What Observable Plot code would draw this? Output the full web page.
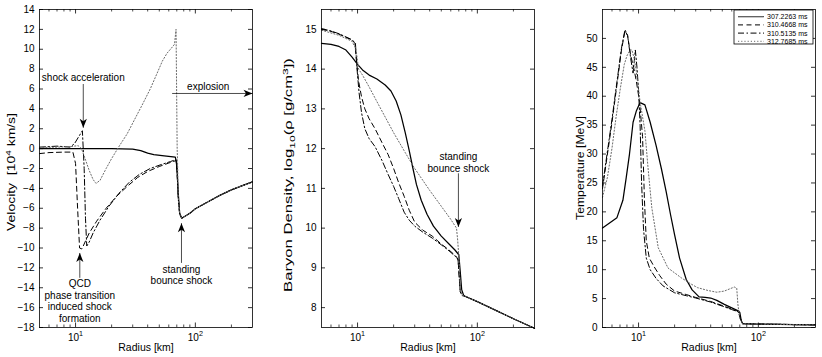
<!DOCTYPE html>
<html><head><meta charset="utf-8">
<script src="https://cdn.jsdelivr.net/npm/d3@7"></script>
<script src="https://cdn.jsdelivr.net/npm/@observablehq/plot@0.6"></script>
<style>
body{margin:0;background:#fff;}
#chart{position:relative;width:822px;height:357px;font-family:"Liberation Sans",Arial,sans-serif;}
#chart svg{position:absolute;top:0;}
</style></head><body><div id="chart"></div>
<script>
// ---------- data ----------
const seriesNames = ["307.2263 ms", "310.4668 ms", "310.5135 ms", "312.7685 ms"];
const radiusDomain = [5, 300];
const radiusMajorTicks = [10, 100];
const radiusMinorTicks = [6, 7, 8, 9, 20, 30, 40, 50, 60, 70, 80, 90, 200];

// Panel 1: velocity [10^4 km/s]
const velocityTicks = [-18, -16, -14, -12, -10, -8, -6, -4, -2, 0, 2, 4, 6, 8, 10, 12, 14];
const velocityTail = [[77, -7.0], [90, -6.5], [100, -6.05], [130, -5.3], [160, -4.7], [200, -4.15], [250, -3.7], [300, -3.35]];
const velocity307 = [[5, 0], [10, 0], [20, 0], [30, -0.05], [35, -0.2], [40, -0.45], [45, -0.6], [55, -0.72], [68, -0.85], [70, -1.5], [72, -4.5], [74, -6.5]];
const velocity310a = [[5, -0.5], [6, -0.4], [8, -0.35], [9.5, -0.35], [10.0, -1.5], [10.4, -6], [10.8, -10.0], [11.3, -10.1], [12, -9.4], [13, -8.5], [15, -7.3], [18, -6.0], [22, -4.8], [27, -3.8], [33, -2.9], [40, -2.3], [50, -1.8], [60, -1.45], [69, -1.2], [70.5, -2.5], [72, -5], [74, -6.6]];
const velocity310b = [[5, 0.15], [6, 0.2], [7, 0.25], [8, 0.2], [9, 0.15], [9.8, 0.5], [10.5, 1.1], [11.4, 1.8], [11.8, -2], [12.1, -7], [12.4, -9.8], [13, -9.4], [14, -8.5], [16, -7.2], [19, -5.8], [23, -4.5], [28, -3.4], [34, -2.6], [42, -2.0], [52, -1.6], [62, -1.3], [69, -1.1], [70.5, -2.5], [72, -5], [74, -6.6]];
const velocity312 = [[5, 0.1], [7, 0.15], [9, 0.2], [10.5, 0.3], [11.2, 0], [12, -1], [13, -2.2], [14, -3.1], [14.8, -3.5], [16, -3.2], [18, -2.0], [20, -1.0], [23, 0.2], [27, 1.5], [31, 2.9], [36, 4.4], [42, 6.0], [48, 7.6], [53, 8.8], [58, 9.6], [63, 10.1], [67, 10.5], [69, 12.0], [69.5, 8], [70.5, 0], [71, -1.2], [72, -5], [74, -6.6]];

// Panel 2: log10 baryon density
const densityTicks = [8, 9, 10, 11, 12, 13, 14, 15];
const densityTail = [[77, 8.3], [100, 8.15], [150, 7.9], [200, 7.72], [300, 7.48]];
const density307 = [[5, 14.65], [6, 14.62], [7, 14.57], [8, 14.48], [9, 14.3], [10, 14.12], [11, 13.98], [12.5, 13.85], [14.5, 13.75], [17, 13.6], [19, 13.45], [21, 13.2], [23, 12.85], [25, 12.4], [27, 11.95], [29, 11.5], [31, 11.1], [34, 10.7], [38, 10.35], [43, 10.05], [50, 9.8], [58, 9.6], [65, 9.45], [70, 9.33], [72, 8.9], [74, 8.45]];
const density310a = [[5, 15.0], [6, 14.95], [7, 14.88], [8, 14.8], [9, 14.73], [9.5, 14.65], [9.8, 14.2], [10.2, 13.7], [10.8, 13.3], [11.5, 13.0], [12.5, 12.75], [14, 12.5], [16, 12.15], [18, 11.85], [20, 11.5], [22, 11.15], [24.5, 10.8], [27, 10.45], [30, 10.15], [35, 9.95], [42, 9.8], [50, 9.6], [58, 9.45], [66, 9.3], [69, 9.22], [70.5, 8.8], [72, 8.4], [75, 8.3]];
const density310b = [[5, 15.02], [6, 14.96], [7, 14.89], [8, 14.81], [9, 14.74], [9.6, 14.65], [9.9, 14.0], [10.3, 13.4], [10.8, 12.9], [11.5, 12.5], [12.5, 12.25], [14, 12.05], [16, 11.7], [18, 11.35], [20, 11.05], [22, 10.75], [24.5, 10.4], [27, 10.2], [30, 10.05], [35, 9.9], [42, 9.75], [50, 9.58], [58, 9.43], [66, 9.28], [69, 9.2], [70.5, 8.8], [72, 8.4], [75, 8.3]];
const density312 = [[5, 14.98], [7, 14.85], [9, 14.7], [9.7, 14.5], [10.2, 14.0], [11, 13.85], [12.5, 13.55], [15, 13.1], [20, 12.4], [25, 11.9], [30, 11.5], [40, 10.95], [50, 10.55], [60, 10.22], [67, 10.0], [68.5, 9.7], [70, 9.3], [72, 8.5], [75, 8.3]];

// Panel 3: temperature [MeV]
const temperatureTicks = [0, 5, 10, 15, 20, 25, 30, 35, 40, 45, 50];
const temperatureTail = [[74, 0.65], [100, 0.6], [150, 0.55], [200, 0.5], [300, 0.45]];
const temperature307 = [[5, 17.2], [6.6, 19.0], [7.4, 22], [7.9, 26], [8.4, 30], [9, 35.5], [9.6, 37.5], [10.3, 38.9], [11.3, 38.5], [12.5, 35.5], [14, 31.5], [15.5, 27.5], [17, 23.5], [18.5, 19.5], [20, 16], [22, 12], [25, 8.3], [28, 6.5], [32, 5.3], [36, 5.2], [40, 5.1], [45, 4.7], [52, 4.0], [60, 3.4], [68, 2.9], [70, 2.6], [72, 1.2]];
const temperature310a = [[5, 24], [5.5, 30], [6, 35.5], [6.6, 42], [7.2, 48], [7.7, 51.3], [8.1, 50.5], [8.6, 47], [9.1, 45], [9.6, 42.5], [10.2, 39], [10.8, 33], [11.2, 22], [11.6, 15], [12.3, 12], [13.5, 10.5], [15, 9], [17, 7.5], [20, 6.3], [25, 5.7], [30, 5.2], [40, 4.5], [50, 3.8], [60, 3.2], [68, 2.8], [71, 1.5]];
const temperature310b = [[5, 24.5], [5.5, 30.5], [6, 36], [6.6, 42.5], [7.2, 48.3], [7.7, 51.5], [8.1, 50.5], [8.6, 46.5], [9.0, 44], [9.4, 48], [9.7, 45], [10.0, 41], [10.3, 35], [10.6, 25], [11.0, 17], [11.6, 12], [12.5, 10], [14, 8.5], [16, 7.2], [20, 6], [25, 5.5], [30, 5.1], [40, 4.4], [50, 3.7], [60, 3.1], [68, 2.7], [71, 1.5]];
const temperature312 = [[5, 22.5], [5.5, 26], [6, 31], [6.5, 36.5], [7.05, 41.4], [7.6, 45.5], [8.0, 47], [8.5, 48], [8.8, 48], [9.2, 46.5], [9.5, 44.8], [10.3, 39], [11.3, 34], [12, 27.6], [12.9, 20.7], [14.6, 13.8], [17.6, 10.3], [22.7, 8.6], [27, 7.6], [31, 6.9], [38, 6.4], [45, 6.1], [52, 6.3], [58, 6.7], [63, 7.0], [66, 6.8], [67.5, 4], [70, 1.5]];

// annotations (data coordinates)
const velocityNotes = [
  {r: 11.6, v: 7.15, text: "shock acceleration"},
  {r: 128, v: 6.3, text: "explosion"},
  {r: 10.85, v: -15.3, text: "QCD\nphase transition\ninduced shock\nformation"},
  {r: 76.6, v: -12.7, text: "standing\nbounce shock"}
];
const velocityArrows = [
  {r1: 11.6, v1: 6.5, r2: 11.6, v2: 2.1},
  {r1: 64, v1: 5.55, r2: 300, v2: 5.55},
  {r1: 10.85, v1: -13.0, r2: 10.85, v2: -10.5},
  {r1: 76.6, v1: -11.5, r2: 76.6, v2: -7.5}
];
const densityNotes = [{r: 69.5, v: 11.65, text: "standing\nbounce shock"}];
const densityArrows = [{r1: 69.5, v1: 11.38, r2: 69.5, v2: 10.03}];

// ---------- styles ----------
const lineColors = ["#000", "#000", "#000", "#6a6a6a"];
const lineWidths = [1.25, 1, 1, 1];
const lineDashes = [null, "5,3.5", "6,2.5,1.5,2.5", "1.2,2"];
const FONT = "'Liberation Sans', Arial, Helvetica, sans-serif";

function headMarker(color) {
  const m = d3.create("svg:marker")
    .attr("viewBox", "-10 -5 10 10").attr("markerWidth", 10).attr("markerHeight", 10)
    .attr("markerUnits", "userSpaceOnUse").attr("orient", "auto")
    .attr("fill", "#000").attr("stroke", "none");
  m.append("path").attr("d", "M0,0L-9,-3.6L-6.5,0L-9,3.6Z");
  return m.node();
}

function richify(root) {
  root.querySelectorAll("text").forEach(t => {
    const targets = t.querySelector("tspan") ? [...t.querySelectorAll("tspan")] : [t];
    targets.forEach(node => {
      const s = node.textContent;
      if (!/[\^_]\{/.test(s)) return;
      const fs = parseFloat(getComputedStyle(node).fontSize) || 10;
      while (node.firstChild) node.removeChild(node.firstChild);
      const re = /([\^_])\{([^}]*)\}/g;
      let last = 0, m, pending = 0;
      const add = (txt, dy, small) => {
        const ts = document.createElementNS("http://www.w3.org/2000/svg", "tspan");
        if (dy) ts.setAttribute("dy", dy);
        if (small) ts.setAttribute("font-size", (fs * 0.72).toFixed(2));
        ts.textContent = txt;
        node.appendChild(ts);
      };
      while ((m = re.exec(s))) {
        if (m.index > last) { add(s.slice(last, m.index), pending); pending = 0; }
        const shift = m[1] === "^" ? -0.42 * fs : 0.28 * fs;
        add(m[2], shift + pending, true);
        pending = -shift;
        last = re.lastIndex;
      }
      if (last < s.length) add(s.slice(last), pending);
    });
  });
}

function makePanel(cfg) {
  const H = 357, mt = 9, mb = 30;
  const fw = cfg.width - cfg.marginLeft - cfg.marginRight;
  const fh = H - mt - mb;
  const X = d => d[0], Y = d => d[1];
  const marks = [];
  cfg.series.forEach((pts, i) => {
    const o = {x: X, y: Y, stroke: lineColors[i], strokeWidth: lineWidths[i]};
    if (lineDashes[i]) o.strokeDasharray = lineDashes[i];
    marks.push(Plot.line(pts, o));
  });
  // inward ticks on all four sides
  marks.push(Plot.tickY(cfg.yTicks, {y: d => d, insetRight: fw - 4, stroke: "#000", strokeWidth: 0.8}));
  marks.push(Plot.tickY(cfg.yTicks, {y: d => d, insetLeft: fw - 4, stroke: "#000", strokeWidth: 0.8}));
  marks.push(Plot.tickX(radiusMinorTicks, {x: d => d, insetTop: fh - 2.5, stroke: "#000", strokeWidth: 0.7}));
  marks.push(Plot.tickX(radiusMinorTicks, {x: d => d, insetBottom: fh - 2.5, stroke: "#000", strokeWidth: 0.7}));
  marks.push(Plot.tickX(radiusMajorTicks, {x: d => d, insetTop: fh - 4.5, stroke: "#000", strokeWidth: 0.8}));
  marks.push(Plot.tickX(radiusMajorTicks, {x: d => d, insetBottom: fh - 4.5, stroke: "#000", strokeWidth: 0.8}));
  marks.push(Plot.frame({stroke: "#000", strokeWidth: 0.8}));
  marks.push(Plot.axisY({ticks: cfg.yTicks, tickSize: 0, tickPadding: 5, label: null, fontSize: 10}));
  marks.push(Plot.axisX({ticks: radiusMajorTicks, tickSize: 0, tickPadding: 6, label: null, fontSize: 10,
    tickFormat: d => `10^{${Math.round(Math.log10(d))}}`}));
  marks.push(Plot.text(["Radius [km]"], {frameAnchor: "bottom", dy: 23, text: d => d, fontSize: 10.5}));
  if (cfg.arrows) marks.push(Plot.link(cfg.arrows, {x1: "r1", y1: "v1", x2: "r2", y2: "v2", stroke: "#000", strokeWidth: 0.7, markerEnd: headMarker}));
  if (cfg.notes) marks.push(Plot.text(cfg.notes, {x: "r", y: "v", text: "text", fontSize: 10, lineHeight: 1.15, fill: "#000"}));
  const svg = Plot.plot({
    width: cfg.width, height: H, marginTop: mt, marginBottom: mb,
    marginLeft: cfg.marginLeft, marginRight: cfg.marginRight,
    style: {fontFamily: FONT, fontSize: "10px", background: "transparent", color: "#000", overflow: "visible"},
    x: {type: "log", domain: radiusDomain},
    y: {domain: cfg.yDomain},
    marks
  });
  svg.style.left = cfg.left + "px";
  document.getElementById("chart").appendChild(svg);
  // rotated y-axis title, stretched along its length like the (vertically stretched) original figure
  const cy = (mt + H - mb) / 2;
  const t = d3.select(svg).append("text")
    .attr("text-anchor", "middle").attr("dy", "0.35em")
    .attr("font-family", FONT).attr("font-size", 10.3).attr("fill", "#000")
    .text(cfg.yLabel);
  richify(svg);
  const natural = t.node().getComputedTextLength() || 1;
  const k = cfg.yLabelLength / natural;
  t.attr("transform", `translate(${cfg.yLabelX},${cfg.yLabelY ?? cy}) rotate(-90) scale(${k.toFixed(3)},1)`);
  return svg;
}

makePanel({left: 0, width: 274, marginLeft: 39, marginRight: 22, yDomain: [-18, 14], yTicks: velocityTicks,
  yLabel: "Velocity  [10^{4} km/s]", yLabelX: 11.5, yLabelY: 172, yLabelLength: 118,
  series: [velocity307.concat(velocityTail), velocity310a.concat(velocityTail), velocity310b.concat(velocityTail), velocity312.concat(velocityTail)],
  notes: velocityNotes, arrows: velocityArrows});

makePanel({left: 274, width: 274, marginLeft: 47, marginRight: 14, yDomain: [7.5, 15.5], yTicks: densityTicks,
  yLabel: "Baryon Density, log_{10}(ρ [g/cm^{3}])", yLabelX: 14.5, yLabelY: 175, yLabelLength: 234,
  series: [density307.concat(densityTail), density310a.concat(densityTail), density310b.concat(densityTail), density312.concat(densityTail)],
  notes: densityNotes, arrows: densityArrows});

const svg3 = makePanel({left: 548, width: 274, marginLeft: 54, marginRight: 7, yDomain: [0, 55], yTicks: temperatureTicks,
  yLabel: "Temperature [MeV]", yLabelX: 32, yLabelY: 168, yLabelLength: 104,
  series: [temperature307.concat(temperatureTail), temperature310a.concat(temperatureTail), temperature310b.concat(temperatureTail), temperature312.concat(temperatureTail)]});

// legend (inside panel 3, top-right)
const lg = d3.select(svg3).append("g").attr("transform", "translate(186,10)")
  .attr("font-family", FONT).attr("font-size", 7).attr("text-anchor", "start");
lg.append("rect").attr("width", 79).attr("height", 34).attr("fill", "#fff").attr("stroke", "#000").attr("stroke-width", 0.8);
seriesNames.forEach((name, i) => {
  const y = 6.7 + i * 8.2;
  const ln = lg.append("line").attr("x1", 4).attr("x2", 30).attr("y1", y).attr("y2", y)
    .attr("stroke", i === 0 ? "#555" : lineColors[i]).attr("stroke-width", lineWidths[i]);
  if (lineDashes[i]) ln.attr("stroke-dasharray", lineDashes[i]);
  lg.append("text").attr("x", 33).attr("y", y).attr("dy", "0.35em").attr("fill", "#000").text(name);
});
</script>
</body></html>
